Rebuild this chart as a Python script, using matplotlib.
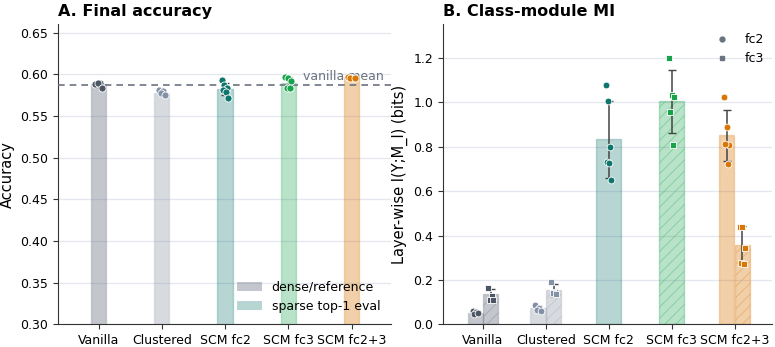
import numpy as np
import matplotlib
matplotlib.use("Agg")
import matplotlib.pyplot as plt
from matplotlib.patches import Patch
from matplotlib.lines import Line2D
from matplotlib.colors import to_rgba

# ---------------- data ----------------
categories = ["Vanilla", "Clustered", "SCM fc2", "SCM fc3", "SCM fc2+3"]
acc_mean = [0.588, 0.578, 0.582, 0.590, 0.597]
acc_points = [
    [0.588, 0.590, 0.590, 0.584],
    [0.581, 0.580, 0.577, 0.575],
    [0.593, 0.587, 0.583, 0.581, 0.579, 0.572],
    [0.597, 0.595, 0.592, 0.584, 0.583],
    [0.597, 0.596, 0.595, 0.596],
]
vanilla_mean = 0.587

# MI (None = layer not present)
mi_fc2_mean = [0.052, 0.072, 0.832, None, 0.850]
mi_fc2_err = [0.006, 0.011, 0.175, None, 0.115]
mi_fc2_points = [
    [0.060, 0.055, 0.045, 0.050],
    [0.088, 0.075, 0.065, 0.060],
    [1.078, 1.005, 0.800, 0.730, 0.728, 0.648],
    None,
    [1.022, 0.888, 0.806, 0.810, 0.722],
]
mi_fc3_mean = [0.135, 0.155, None, 1.003, 0.358]
mi_fc3_err = [0.025, 0.025, None, 0.143, 0.085]
mi_fc3_points = [
    [0.162, 0.127, 0.110, 0.110],
    [0.192, 0.145, 0.140, 0.137],
    None,
    [1.200, 1.030, 1.022, 0.957, 0.805],
    [0.440, 0.440, 0.345, 0.275, 0.272],
]

base_colors = ["#6b7280", "#9ca3af", "#0f766e", "#16a34a", "#d97706"]
point_colors = ["#4b5563", "#8391a7", "#0f766e", "#16a34a", "#d97706"]
bar_alpha = [0.4, 0.4, 0.3, 0.3, 0.35]

# ---------------- figure ----------------
plt.rcParams["font.family"] = ["DejaVu Sans"]
plt.rcParams["hatch.linewidth"] = 0.7
fig = plt.figure(figsize=(7.75, 3.47), dpi=100)
axA = fig.add_axes([0.075, 0.065, 0.43, 0.865])
axB = fig.add_axes([0.5716, 0.065, 0.425, 0.865])

grid_color = "#e3e7ef"
for ax in (axA, axB):
    ax.spines["top"].set_visible(False)
    ax.spines["right"].set_visible(False)
    ax.spines["left"].set_color("#333333")
    ax.spines["bottom"].set_color("#333333")
    ax.yaxis.grid(True, color=grid_color, linewidth=0.9)
    ax.set_axisbelow(True)
    ax.tick_params(labelsize=9, length=3.5, color="#333333")

def jitter(n, spread=0.05):
    return np.linspace(-spread, spread, n)[np.r_[0:n:2, 1:n:2]]

# ---------------- panel A ----------------
x = np.arange(len(categories))
for i, c in enumerate(categories):
    col = base_colors[i]
    axA.bar(x[i], acc_mean[i], width=0.24, bottom=0,
            facecolor=to_rgba(col, bar_alpha[i]),
            edgecolor=to_rgba(col, 0.25), linewidth=1, zorder=2)
    pts = np.array(acc_points[i])
    axA.errorbar(x[i], pts.mean(), yerr=pts.std(ddof=1), color="#444444",
                 capsize=3, linewidth=1, zorder=3)
    axA.scatter(x[i] + jitter(len(pts)), pts, s=26, color=point_colors[i],
                edgecolor="white", linewidth=0.6, zorder=4)
axA.axhline(vanilla_mean, color="#6b7280", linestyle=(0, (4, 3)), linewidth=1.2, zorder=3)
axA.text(3.23, vanilla_mean + 0.0105, "vanilla mean", color="#6b7280", fontsize=9,
         va="center", ha="left", zorder=3)
axA.set_ylim(0.30, 0.66)
axA.set_xlim(-0.64, 4.63)
axA.set_yticks(np.arange(0.30, 0.651, 0.05))
axA.set_yticklabels([f"{v:.2f}" for v in np.arange(0.30, 0.651, 0.05)])
axA.set_xticks(x)
axA.set_xticklabels(categories)
axA.set_ylabel("Accuracy", fontsize=10.5)
axA.set_title("A. Final accuracy", loc="left", fontsize=11.5, fontweight="bold", pad=6)
legA = [Patch(facecolor=to_rgba("#6b7280", 0.4), edgecolor="none", label="dense/reference"),
        Patch(facecolor=to_rgba("#0f766e", 0.3), edgecolor="none", label="sparse top-1 eval")]
axA.legend(handles=legA, loc="lower right", frameon=False, fontsize=9)

# ---------------- panel B ----------------
def draw_mi(ax, xpos, width, mean, err, pts, i, hatched, marker):
    col = base_colors[i]
    ax.bar(xpos, mean, width=width, facecolor=to_rgba(col, bar_alpha[i]),
           edgecolor=to_rgba(col, 0.3 if hatched else 0.25), linewidth=1,
           hatch="///" if hatched else None, zorder=2)
    ax.errorbar(xpos, mean, yerr=err, color="#444444", capsize=3, linewidth=1.1, zorder=3)
    pts = np.array(pts)
    ax.scatter(xpos + jitter(len(pts), 0.04), pts, s=24, marker=marker,
               color=point_colors[i], edgecolor="white", linewidth=0.6, zorder=4)

for i, c in enumerate(categories):
    has2 = mi_fc2_mean[i] is not None
    has3 = mi_fc3_mean[i] is not None
    if has2 and has3:
        draw_mi(axB, x[i] - 0.125, 0.24, mi_fc2_mean[i], mi_fc2_err[i], mi_fc2_points[i], i, False, "o")
        draw_mi(axB, x[i] + 0.125, 0.24, mi_fc3_mean[i], mi_fc3_err[i], mi_fc3_points[i], i, True, "s")
    elif has2:
        draw_mi(axB, x[i], 0.4, mi_fc2_mean[i], mi_fc2_err[i], mi_fc2_points[i], i, False, "o")
    else:
        draw_mi(axB, x[i], 0.4, mi_fc3_mean[i], mi_fc3_err[i], mi_fc3_points[i], i, True, "s")

axB.set_ylim(0, 1.35)
axB.set_xlim(-0.635, 4.6)
axB.set_yticks(np.arange(0, 1.21, 0.2))
axB.set_yticklabels([f"{v:.1f}" for v in np.arange(0, 1.21, 0.2)])
axB.set_xticks(x)
axB.set_xticklabels(categories)
axB.set_ylabel("Layer-wise I(Y;M_l) (bits)", fontsize=10.5)
axB.set_title("B. Class-module MI", loc="left", fontsize=11.5, fontweight="bold", pad=6)
legB = [Line2D([], [], marker="o", linestyle="none", color="#6b7280", markersize=3.5, label="fc2"),
        Line2D([], [], marker="s", linestyle="none", color="#6b7280", markersize=3.5, label="fc3")]
axB.legend(handles=legB, loc="upper right", frameon=False, fontsize=9, borderaxespad=0.3)

fig.savefig("out.png", dpi=100)
